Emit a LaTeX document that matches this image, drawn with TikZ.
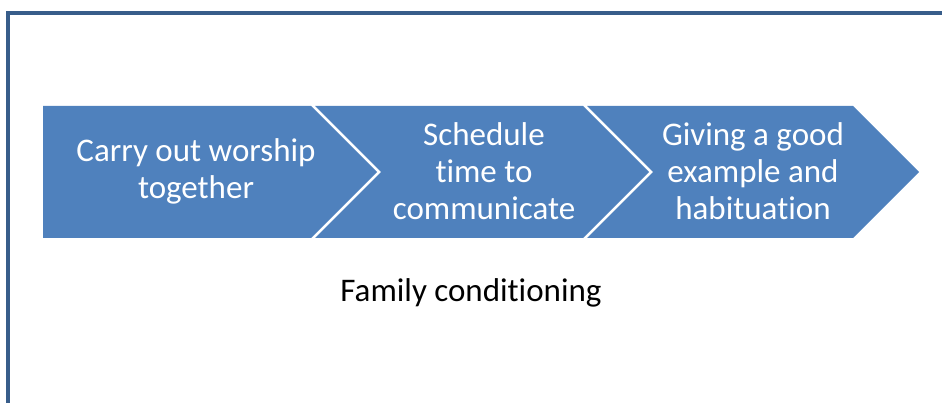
\documentclass[tikz,border=0pt]{standalone}
\usepackage{fontspec}
\setmainfont[Ligatures=NoCommon]{Carlito}
\definecolor{chevblue}{RGB}{79,129,189}
\definecolor{frameblue}{RGB}{56,93,138}

\begin{document}
\begin{tikzpicture}[x=1pt,y=-1pt,line join=miter,
    frame/.style={draw=frameblue,line width=3.5pt},
    chev/.style={fill=chevblue},
    step label/.style={text=white,align=center,font=\fontsize{33}{37}\selectfont},
    main label/.style={text=black,font=\fontsize{33}{37}\selectfont}]
    \useasboundingbox (0,0) rectangle (942,403);
    \draw[frame] (8,405) -- (8,13) -- (945,13);

    \fill[chev] (43,106) -- (311,106) -- (377,172) -- (311,238) -- (43,238) -- cycle;
    \fill[chev] (315,106) -- (583,106) -- (649,172) -- (583,238) -- (315,238) -- (381,172) -- cycle;
    \fill[chev] (587,106) -- (853,106) -- (919,172) -- (853,238) -- (587,238) -- (653,172) -- cycle;

    \node[step label] (worship) at (196,171) {Carry out worship\\together};
    \node[step label] (schedule) at (484,171) {Schedule\\time to\\communicate};
    \node[step label] (example) at (753,171) {Giving a good\\example and\\habituation};
    \node[main label] (family) at (471,293) {Family conditioning};
\end{tikzpicture}
\end{document}
